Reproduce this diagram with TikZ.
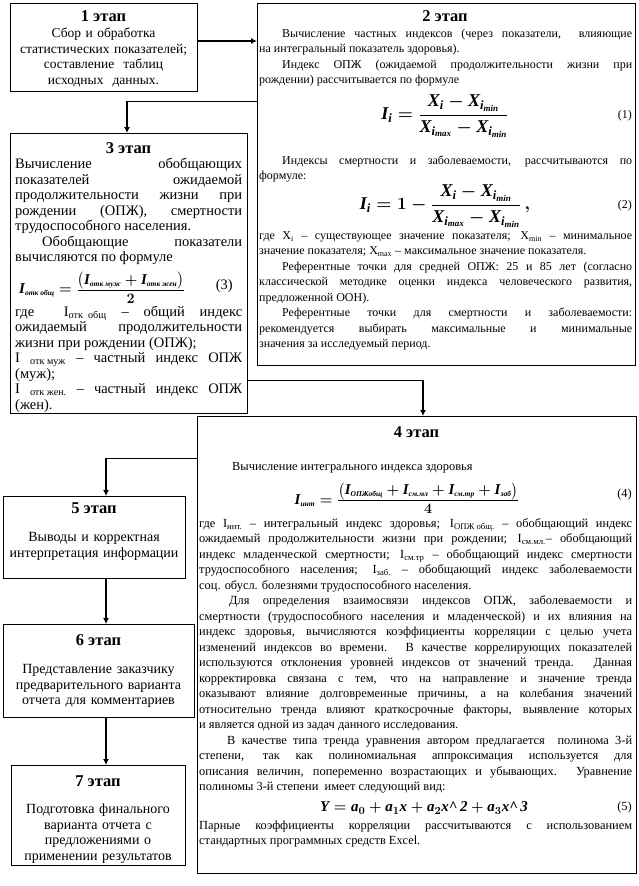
\documentclass[tikz,border=0pt]{standalone}
\usepackage{amsmath}
\usepackage{fontspec}
\setmainfont{Liberation Serif}
\usetikzlibrary{arrows.meta}
\setlength\parindent{0pt}
\tolerance=9999
\hbadness=10000
\newcommand\bi[1]{\text{\normalfont\bfseries\itshape #1}}
\newcommand\ts[1]{{\scriptscriptstyle\bi{#1}}}
\newcommand\ind[1][20pt]{\hspace*{#1}}
\newcommand\tstrut{\rule{0pt}{13pt}}
\newcommand\fml[2][15]{{\fontsize{#1}{#1}\selectfont\boldmath$\displaystyle #2$}}
\newcommand\cfr[2]{{\textstyle\frac{\displaystyle #1}{\displaystyle\rule{0pt}{0.8em}#2}}}
\newcommand\lsub[1]{\textsubscript{#1}}
\newcommand\xfrac{\dfrac{\bi{X}_{\bi{i}} - \bi{X}_{\bi{i}_{\bi{min}}}}{\bi{X}_{\bi{i}_{\bi{max}}} - \bi{X}_{\bi{i}_{\bi{min}}}}}
\tikzset{
  box/.style={draw, line width=0.9pt, inner sep=0pt, outer sep=0pt, anchor=north west},
  hd/.style={anchor=base, inner sep=0pt, font=\fontsize{16.5}{18}\selectfont\bfseries},
  jt/.style={anchor=north west, inner sep=0pt, align=justify},
  ct/.style={anchor=north, inner sep=0pt, align=center},
  eqn/.style={inner sep=0pt},
  num/.style={anchor=east, inner sep=0pt, font=\fontsize{12}{15.5}\selectfont},
  fA/.style={font=\fontsize{12}{15.5}\selectfont},
  fB/.style={font=\fontsize{14.5}{15.5}\selectfont},
  fC/.style={font=\fontsize{12.4}{15.5}\selectfont},
  fD/.style={font=\fontsize{13.5}{15.5}\selectfont},
  fE/.style={font=\fontsize{14}{15.5}\selectfont},
  arr/.style={line width=1.8pt, -{Latex[length=6pt,width=6pt]}},
  link/.style={line width=0.9pt}
}
\begin{document}
\begin{tikzpicture}[x=1pt,y=-1pt]
\useasboundingbox (0,0) rectangle (639,886);
\fill[white] (0,0) rectangle (639,886);

% boxes
\node[box, minimum width=187pt, minimum height=88pt] (b1) at (10,3) {};
\node[box, minimum width=378pt, minimum height=362pt] (b2) at (257,3) {};
\node[box, minimum width=237pt, minimum height=280pt] (b3) at (10,133) {};
\node[box, minimum width=439pt, minimum height=457pt] (b4) at (197,416) {};
\node[box, minimum width=182pt, minimum height=82pt] (b5) at (3,496) {};
\node[box, minimum width=191pt, minimum height=93pt] (b6) at (3,624) {};
\node[box, minimum width=174pt, minimum height=100pt] (b7) at (11,765) {};

% box 1
\node[hd] (h1) at (103.5,21.5) {1 этап};
\node[ct, fD, text width=184pt] (t1) at (103.5,24.5)
 {\tstrut Сбор и обработка\\ статистических показателей;\\ составление\ \ таблиц\\ исходных\ \ данных.};

% box 2
\node[hd] (h2) at (445,21) {2 этап};
\node[jt, fA, text width=373pt] (t2a) at (259,24) {\tstrut
\ind[23pt]Вычисление частных индексов (через показатели,\ \ влияющие\linebreak на интегральный показатель здоровья).\par
\ind[23pt]Индекс ОПЖ (ожидаемой продолжительности жизни при\linebreak рождении) рассчитывается по формуле};
\node[eqn] (f1) at (445,116) {\fml[18]{\bi{I}_{\bi{i}} = \xfrac}};
\node[num] (n1) at (632,116) {(1)};
\node[jt, fA, text width=373pt] (t2b) at (259,151) {\tstrut
\ind[23pt]Индексы смертности и заболеваемости, рассчитываются по\linebreak формуле:};
\node[eqn] (f2) at (445,206) {\fml[18]{\bi{I}_{\bi{i}} = \mathbf{1} - \xfrac\,,}};
\node[num] (n2) at (632,206) {(2)};
\node[jt, fA, text width=373pt] (t2c) at (259,226) {\tstrut
где X\lsub{i} – существующее значение показателя; X\lsub{min} – минимальное\linebreak значение показателя; X\lsub{max} – максимальное значение показателя.\par
\ind[23pt]Референтные точки для средней ОПЖ: 25 и 85 лет (согласно\linebreak классической методике оценки индекса человеческого развития,\linebreak предложенной ООН).\par
\ind[23pt]Референтные точки для смертности и заболеваемости:\linebreak рекомендуется выбирать максимальные и минимальные\linebreak значения за исследуемый период.};

% box 3 (clipped)
\node[hd] (h3) at (128.5,153) {3 этап};
\begin{scope}
\clip (b3.north west) rectangle (b3.south east);
\node[jt, fB, text width=227pt] (t3a) at (15,155.5) {\tstrut
Вычисление обобщающих\linebreak показателей ожидаемой\linebreak продолжительности жизни при\linebreak рождении (ОПЖ), смертности\linebreak трудоспособного населения.\par
\ind[27pt]Обобщающие показатели\linebreak вычисляются по формуле};
\node[eqn, anchor=west] (f3) at (19,287.5) {\fml[15]{\bi{I}_{\ts{отк общ}} = \cfr{\bigl(\bi{I}_{\ts{отк муж}} + \bi{I}_{\ts{отк жен}}\bigr)}{\mathbf{2}}}};
\node[num, fB] (n3) at (233,286) {(3)};
\node[jt, fB, text width=227pt] (t3b) at (15,303) {\tstrut
где\ \ I\lsub{отк\ \ общ} – общий индекс\linebreak ожидаемый продолжительности\linebreak жизни при рождении (ОПЖ);\par
I \lsub{отк муж} – частный индекс ОПЖ\linebreak (муж);\par
I \lsub{отк жен.} – частный индекс ОПЖ\linebreak (жен).};
\end{scope}

% box 4
\node[hd] (h4) at (416.5,437) {4 этап};
\node[fC, anchor=base west, inner sep=0pt] (t4a) at (232,470) {Вычисление интегрального индекса здоровья};
\node[eqn] (f4) at (407,498) {\fml[15]{\bi{I}_{\ts{инт}} = \cfr{\bigl(\bi{I}_{\ts{ОПЖобщ}} + \bi{I}_{\ts{см.мл}} + \bi{I}_{\ts{см.тр}} + \bi{I}_{\ts{заб}}\bigr)}{\mathbf{4}}}};
\node[num, fC] (n4) at (632,495) {(4)};
\node[jt, fC, text width=433pt] (t4b) at (199,514) {\tstrut
где I\lsub{инт.} – интегральный индекс здоровья; I\lsub{ОПЖ общ.} – обобщающий индекс\linebreak ожидаемый продолжительности жизни при рождении; I\lsub{см.мл.}– обобщающий\linebreak индекс младенческой смертности; I\lsub{см.тр} – обобщающий индекс смертности\linebreak трудоспособного населения; I\lsub{заб.} – обобщающий индекс заболеваемости\linebreak соц. обусл. болезнями трудоспособного населения.\par
\ind[30pt]Для определения взаимосвязи индексов ОПЖ, заболеваемости и\linebreak смертности (трудоспособного населения и младенческой) и их влияния на\linebreak индекс здоровья, вычисляются коэффициенты корреляции с целью учета\linebreak изменений индексов во времени. В качестве коррелирующих показателей\linebreak используются отклонения уровней индексов от значений тренда. Данная\linebreak корректировка связана с тем, что на направление и значение тренда\linebreak оказывают влияние долговременные причины, а на колебания значений\linebreak относительно тренда влияют краткосрочные факторы, выявление которых\linebreak и является одной из задач данного исследования.\par
\ind[28pt]В качестве типа тренда уравнения автором предлагается\ \ полинома 3-й\linebreak степени, так как полиномиальная аппроксимация используется для\linebreak описания величин, попеременно возрастающих и убывающих. Уравнение\linebreak полиномы 3-й степени\ \ имеет следующий вид:};
\node[eqn] (f5) at (424,808) {\fml[15]{\bi{Y} = \bi{a}_{\mathbf{0}} + \bi{a}_{\mathbf{1}}\bi{x} + \bi{a}_{\mathbf{2}}\bi{x\textasciicircum\,2} + \bi{a}_{\mathbf{3}}\bi{x\textasciicircum\,3}}};
\node[num, fC] (n5) at (632,808) {(5)};
\node[jt, fC, text width=433pt] (t4c) at (199,816) {\tstrut
Парные коэффициенты корреляции рассчитываются с использованием\linebreak стандартных программных средств Excel.};

% boxes 5-7
\node[hd] (h5) at (94,513) {5 этап};
\node[ct, fE, text width=178pt] (t5) at (94,528.5)
 {\tstrut Выводы и корректная\\ интерпретация информации};
\node[hd] (h6) at (98.5,645) {6 этап};
\node[ct, fE, text width=188pt] (t6) at (98.5,660.5)
 {\tstrut Представление заказчику\\ предварительного варианта\\ отчета для комментариев};
\node[hd] (h7) at (98,786) {7 этап};
\begin{scope}
\clip (b7.north west) rectangle (b7.south east);
\node[ct, fE, text width=172pt] (t7) at (98,800.5)
 {\tstrut Подготовка финального\\ варианта отчета с\\ предложениями о\\ применении результатов\\ оценки};
\end{scope}

% connectors
\draw[arr] ([yshift=6pt]b1.east) -- ([yshift=6pt]b1.east -| b2.west);
\coordinate (k23) at (127,101);
\draw[link] (b2.west |- k23) -- (k23);
\draw[arr] (k23) -- (k23 |- b3.north);
\coordinate (k34) at (423,380);
\draw[link] (b3.east |- k34) -- (k34);
\draw[arr] (k34) -- (k34 |- b4.north);
\coordinate (k45) at (106,458);
\draw[link] (b4.west |- k45) -- (k45);
\draw[arr] (k45) -- (k45 |- b5.north);
\draw[arr] (b5.south -| k45) -- (b6.north -| k45);
\draw[arr] (b6.south -| k45) -- (b7.north -| k45);
\end{tikzpicture}
\end{document}
